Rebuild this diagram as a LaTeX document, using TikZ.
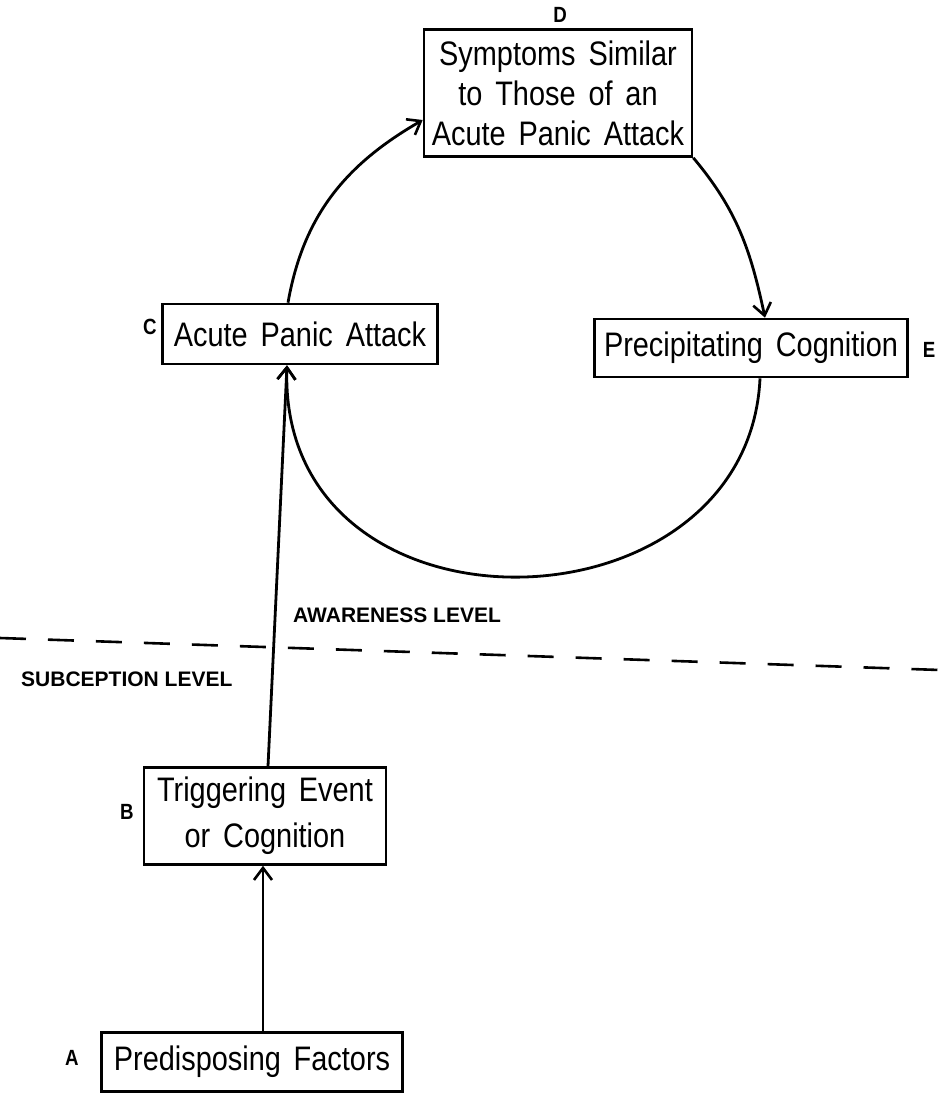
\documentclass[tikz,border=0pt]{standalone}
\usepackage{fontspec}
\setmainfont{Liberation Sans}[FakeStretch=0.85,WordSpace=1.6]
\newfontfamily\lvlfont{Liberation Sans}
\usetikzlibrary{arrows.meta,calc}
\begin{document}
\begin{tikzpicture}[x=1pt,y=1pt,
  box/.style={draw,line width=2.6pt,inner sep=0pt,align=center,font=\fontsize{34}{40}\selectfont},
  tag/.style={inner sep=0pt,font=\bfseries\fontsize{22}{24}\selectfont},
  lvl/.style={inner sep=0pt,anchor=west,font=\lvlfont\bfseries\fontsize{21}{24}\selectfont},
  arr/.style={line width=2.8pt,-{Straight Barb[length=12pt,width=18pt,line width=2.6pt]}},
  sep/.style={line width=2.6pt,dash pattern=on 26pt off 22pt}]
\useasboundingbox (0,0) rectangle (940,-1095);
\fill[white] (0,0) rectangle (940,-1095);
\node[box,minimum width=268pt,minimum height=127pt] (D) at (558,-93) {Symptoms Similar\\to Those of an\\Acute Panic Attack};
\node[box,minimum width=275pt,minimum height=60pt] (C) at (300,-334) {Acute Panic Attack};
\node[box,minimum width=313pt,minimum height=58pt] (E) at (751,-348) {Precipitating Cognition};
\node[box,minimum width=242pt,minimum height=97pt,font=\fontsize{34}{46}\selectfont] (B) at (265,-816) {Triggering Event\\or Cognition};
\node[box,minimum width=301pt,minimum height=59pt] (A) at (252,-1062) {Predisposing Factors};
\node[tag] (lD) at (560,-15) {D};
\node[tag] (lC) at (150,-327) {C};
\node[tag] (lE) at (929,-350) {E};
\node[tag] (lB) at (127,-812) {B};
\node[tag] (lA) at (72,-1058) {A};
\node[lvl] (aw) at (293,-615) {AWARENESS LEVEL};
\node[lvl] (sub) at (21,-679) {SUBCEPTION LEVEL};
\draw[sep] (0,-638) -- (940,-670);
\draw[arr] ([xshift=11pt]A.north) -- ([xshift=-2pt]B.south);
\draw[arr] ([xshift=3pt]B.north) -- ([xshift=-13pt]C.south);
\draw[arr] ([xshift=-12pt]C.north) to[out=80,in=210] ([yshift=-27pt]D.west);
\draw[arr] (D.south east) to[out=-50,in=102] ([xshift=14pt]E.north);
\draw[arr] ([xshift=9pt]E.south) .. controls (748,-640) and (278,-650) .. ([xshift=-13pt]C.south);
\end{tikzpicture}
\end{document}
